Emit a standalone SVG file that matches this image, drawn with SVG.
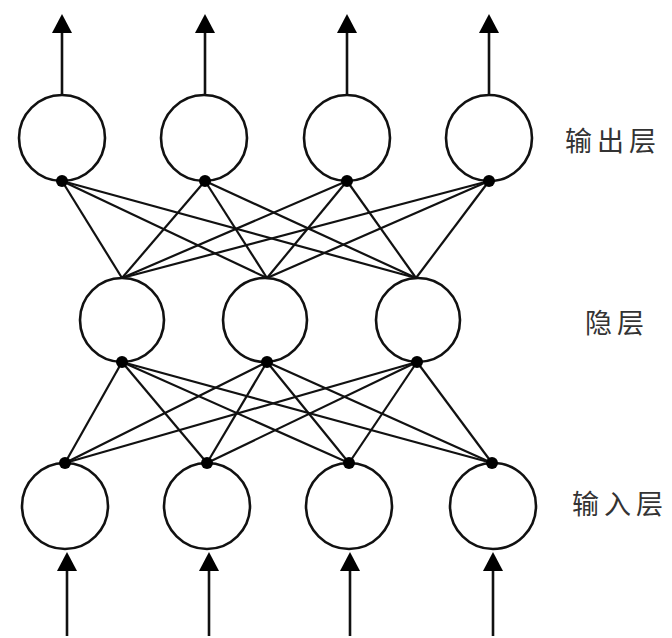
<svg xmlns="http://www.w3.org/2000/svg" width="672" height="638" viewBox="0 0 672 638">
<defs>
<style>
.node{fill:#fff;stroke:#111;stroke-width:2.6}
.dot{fill:#000}
.ln{stroke:#111;stroke-width:2.2;fill:none}
.arr{stroke:#111;stroke-width:2.6;fill:none}
.head{fill:#000}
.lbl{font-family:"Noto Sans CJK SC","Noto Sans",sans-serif;font-size:27px;fill:#333;letter-spacing:5px}
</style>
<path id="up" d="M0,0 L10,19 L-10,19 Z"/>
</defs>
<rect width="672" height="638" fill="#fff"/>
<g id="connectors">
<line class="ln" x1="62" y1="181" x2="122" y2="278"/>
<line class="ln" x1="62" y1="181" x2="267" y2="278"/>
<line class="ln" x1="62" y1="181" x2="416" y2="278"/>
<line class="ln" x1="205" y1="181" x2="122" y2="278"/>
<line class="ln" x1="205" y1="181" x2="267" y2="278"/>
<line class="ln" x1="205" y1="181" x2="416" y2="278"/>
<line class="ln" x1="347" y1="181" x2="122" y2="278"/>
<line class="ln" x1="347" y1="181" x2="267" y2="278"/>
<line class="ln" x1="347" y1="181" x2="416" y2="278"/>
<line class="ln" x1="489" y1="181" x2="122" y2="278"/>
<line class="ln" x1="489" y1="181" x2="267" y2="278"/>
<line class="ln" x1="489" y1="181" x2="416" y2="278"/>
<line class="ln" x1="122" y1="362" x2="65" y2="463"/>
<line class="ln" x1="122" y1="362" x2="207" y2="463"/>
<line class="ln" x1="122" y1="362" x2="349" y2="463"/>
<line class="ln" x1="122" y1="362" x2="492" y2="463"/>
<line class="ln" x1="267" y1="362" x2="65" y2="463"/>
<line class="ln" x1="267" y1="362" x2="207" y2="463"/>
<line class="ln" x1="267" y1="362" x2="349" y2="463"/>
<line class="ln" x1="267" y1="362" x2="492" y2="463"/>
<line class="ln" x1="417" y1="362" x2="65" y2="463"/>
<line class="ln" x1="417" y1="362" x2="207" y2="463"/>
<line class="ln" x1="417" y1="362" x2="349" y2="463"/>
<line class="ln" x1="417" y1="362" x2="492" y2="463"/>
<line class="arr" x1="62" y1="95" x2="62" y2="30"/>
<use href="#up" class="head" x="62" y="14"/>
<line class="arr" x1="205" y1="95" x2="205" y2="30"/>
<use href="#up" class="head" x="205" y="14"/>
<line class="arr" x1="347" y1="95" x2="347" y2="30"/>
<use href="#up" class="head" x="347" y="14"/>
<line class="arr" x1="489" y1="95" x2="489" y2="30"/>
<use href="#up" class="head" x="489" y="14"/>
<line class="arr" x1="67" y1="636" x2="67" y2="568"/>
<use href="#up" class="head" x="67" y="552"/>
<line class="arr" x1="209" y1="636" x2="209" y2="568"/>
<use href="#up" class="head" x="209" y="552"/>
<line class="arr" x1="350" y1="636" x2="350" y2="568"/>
<use href="#up" class="head" x="350" y="552"/>
<line class="arr" x1="493" y1="636" x2="493" y2="568"/>
<use href="#up" class="head" x="493" y="552"/>
</g>
<g id="out1"><circle class="node" cx="62" cy="138" r="43"/><circle class="dot" cx="62" cy="181" r="6"/></g>
<g id="out2"><circle class="node" cx="204" cy="138" r="43"/><circle class="dot" cx="205" cy="181" r="6"/></g>
<g id="out3"><circle class="node" cx="347" cy="138" r="43"/><circle class="dot" cx="347" cy="181" r="6"/></g>
<g id="out4"><circle class="node" cx="489" cy="138" r="43"/><circle class="dot" cx="489" cy="181" r="6"/></g>
<g id="hid1"><circle class="node" cx="122" cy="320" r="42"/><circle class="dot" cx="122" cy="362" r="6"/></g>
<g id="hid2"><circle class="node" cx="265" cy="320" r="42"/><circle class="dot" cx="267" cy="362" r="6"/></g>
<g id="hid3"><circle class="node" cx="418" cy="320" r="42"/><circle class="dot" cx="417" cy="362" r="6"/></g>
<g id="in1"><circle class="node" cx="65" cy="506" r="43"/><circle class="dot" cx="65" cy="463" r="6"/></g>
<g id="in2"><circle class="node" cx="207" cy="506" r="43"/><circle class="dot" cx="207" cy="463" r="6"/></g>
<g id="in3"><circle class="node" cx="349" cy="506" r="43"/><circle class="dot" cx="349" cy="463" r="6"/></g>
<g id="in4"><circle class="node" cx="493" cy="506" r="43"/><circle class="dot" cx="492" cy="463" r="6"/></g>
<g id="labels">
<text class="lbl" x="565" y="151">输出层</text>
<text class="lbl" x="585" y="333">隐层</text>
<text class="lbl" x="572" y="514">输入层</text>
</g>
</svg>
